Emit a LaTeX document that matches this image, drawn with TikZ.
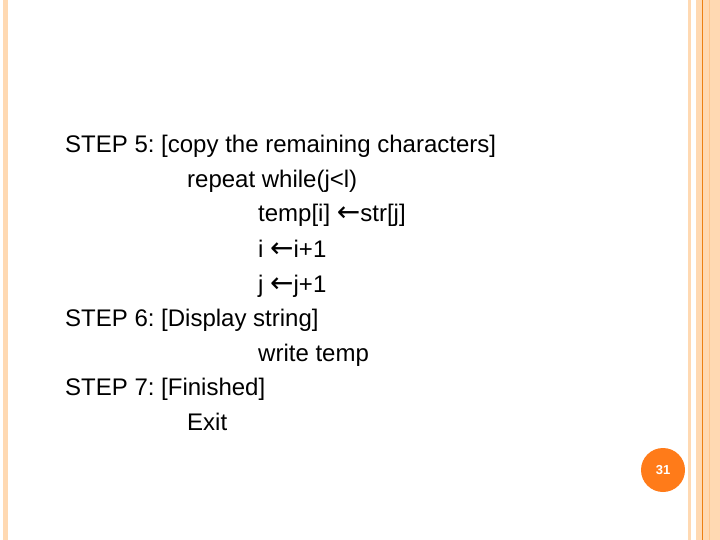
\documentclass[tikz,border=0pt]{standalone}
\usepackage{fontspec}
\setmainfont{Liberation Sans}
\newfontfamily\symfont{DejaVu Sans}
\newcommand{\larr}{{\symfont\fontsize{28}{28}\selectfont ←}}
\frenchspacing

\begin{document}
\begin{tikzpicture}[x=1pt, y=-1pt, line/.style={anchor=base west, inner sep=0pt, font=\fontsize{24}{27}\selectfont},
		band/.style={fill=orange!30!white, draw=none}]
		\useasboundingbox (0,0) rectangle (720,540);
		\fill[white] (0,0) rectangle (720,540);
		% borders
		\fill[band] (3,0) rectangle (8,540);
		\fill[band] (688,0) rectangle (691,540);
		\fill[band] (696,0) rectangle (720,540);
		\draw[orange!70!brown, line width=0.8pt] (702.5,0) -- (702.5,540);
		\draw[orange!45!white, line width=0.8pt] (709,0) -- (709,540);

		\node[line] (s5) at (65,153) {STEP 5: [copy the remaining characters]};
		\node[line] (rep) at (187,188) {repeat while(j<l)};
		\node[line] (t1) at (258,222) {temp[i] \larr str[j]};
		\node[line] (t2) at (258,257) {i \larr i+1};
		\node[line] (t3) at (258,292) {j \larr j+1};
		\node[line] (s6) at (65,326) {STEP 6: [Display string]};
		\node[line] (wr) at (258,361) {write temp};
		\node[line] (s7) at (65,395) {STEP 7: [Finished]};
		\node[line] (ex) at (187,430) {Exit};

		\node[circle, fill=orange!85!red!90!white, minimum size=44pt, text=white, font=\bfseries\fontsize{13}{15}\selectfont] (pg) at (663,470) {31};
	\end{tikzpicture}
\end{document}
